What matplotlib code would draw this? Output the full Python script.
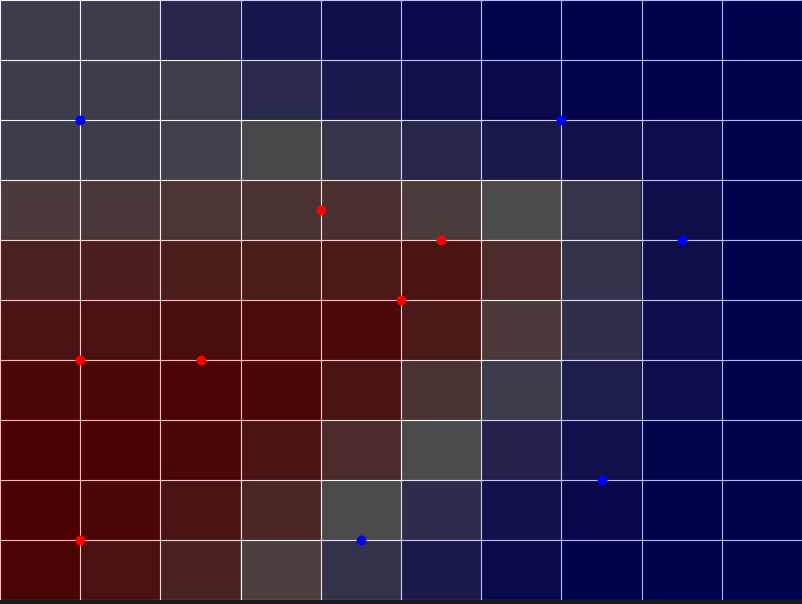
import numpy as np
import matplotlib
matplotlib.use("Agg")
import matplotlib.pyplot as plt

# Cell values (rows from top y=9..10 down to y=0..1), columns x=0..9
grid_values = [
    [0.40, 0.40, 0.26, 0.16, 0.10, 0.065, 0.03, 0.01, 0.01, 0.00],
    [0.40, 0.40, 0.42, 0.27, 0.17, 0.11, 0.07, 0.03, 0.02, 0.01],
    [0.40, 0.40, 0.43, 0.48, 0.35, 0.25, 0.17, 0.12, 0.09, 0.01],
    [0.61, 0.63, 0.65, 0.67, 0.69, 0.60, 0.50, 0.35, 0.10, 0.01],
    [0.78, 0.79, 0.80, 0.81, 0.83, 0.86, 0.71, 0.34, 0.10, 0.01],
    [0.86, 0.88, 0.90, 0.92, 0.93, 0.83, 0.61, 0.31, 0.09, 0.01],
    [0.95, 0.95, 0.97, 0.95, 0.86, 0.66, 0.40, 0.20, 0.09, 0.01],
    [0.99, 0.98, 0.95, 0.87, 0.71, 0.50, 0.23, 0.11, 0.03, 0.01],
    [0.99, 0.95, 0.86, 0.74, 0.51, 0.30, 0.12, 0.06, 0.01, 0.01],
    [0.97, 0.88, 0.78, 0.58, 0.33, 0.17, 0.07, 0.02, 0.01, 0.01],
]

red_x = [4.0, 5.5, 5.0, 1.0, 2.5, 1.0]
red_y = [6.5, 6.0, 5.0, 4.0, 4.0, 1.0]
blue_x = [1.0, 7.0, 8.5, 7.5, 4.5]
blue_y = [8.0, 8.0, 6.0, 2.0, 1.0]

fig = plt.figure(figsize=(8.02, 6.04), dpi=100, facecolor="#171b1f")
ax = fig.add_axes([0, 4 / 604, 1, 600 / 604])
ax.set_facecolor("black")

ax.set_axisbelow(True)
ax.grid(True, color="white", linewidth=0.8, zorder=0.5)
ax.set_xticks(np.arange(0, 11, 1))
ax.set_yticks(np.arange(0, 11, 1))

ax.imshow(np.array(grid_values), cmap="bwr", vmin=0, vmax=1, alpha=0.3,
          extent=[0, 10, 0, 10], origin="upper", aspect="auto",
          interpolation="nearest", zorder=1)

ax.scatter(red_x, red_y, s=50, color="red", zorder=3, linewidths=0)
ax.scatter(blue_x, blue_y, s=50, color="blue", zorder=3, linewidths=0)

ax.set_xlim(0, 10)
ax.set_ylim(0, 10)
ax.tick_params(left=False, bottom=False, labelleft=False, labelbottom=False)
for sp in ax.spines.values():
    sp.set_visible(False)

fig.savefig("out.png", dpi=100, facecolor=fig.get_facecolor())
